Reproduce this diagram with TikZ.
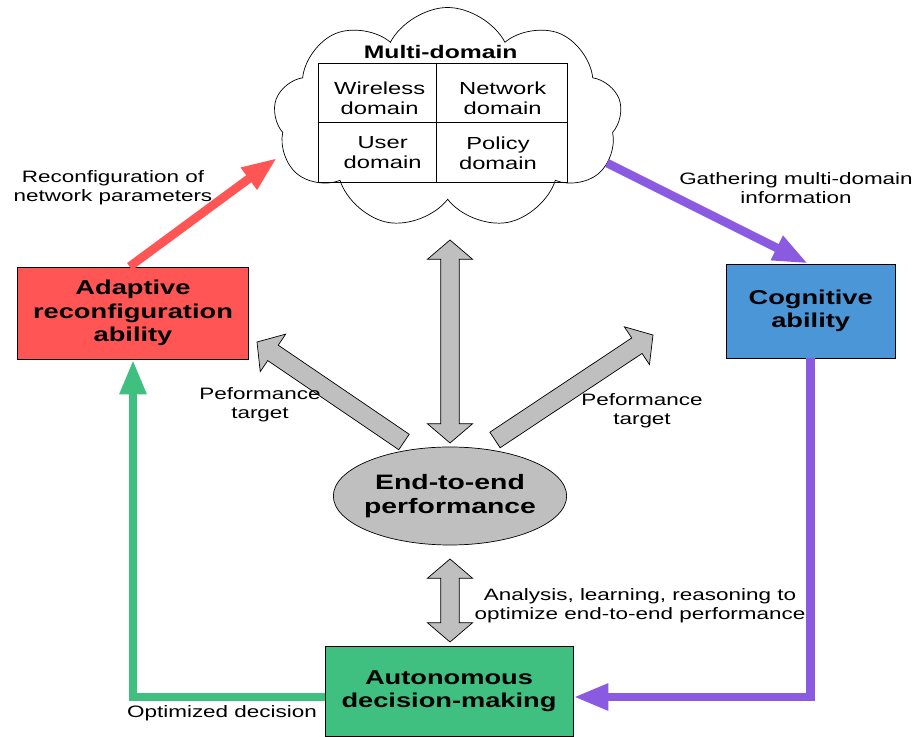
\documentclass[tikz,border=0pt]{standalone}
\usepackage{fontspec}
\setmainfont{Liberation Sans}[FakeStretch=1.36]
\usepackage{tikz}
\usetikzlibrary{arrows.meta,calc,shapes.symbols}

\definecolor{adaptred}{RGB}{255,85,85}
\definecolor{cogblue}{RGB}{75,150,215}
\definecolor{autogreen}{RGB}{64,192,128}
\definecolor{flowpurple}{RGB}{138,90,224}

\tikzset{
    lbl/.style={align=center, font=\fontsize{14.1}{16.2}\selectfont},
    cell/.style={align=center, font=\fontsize{14.9}{17.1}\selectfont},
    abilitybox/.style={draw, line width=0.8pt, align=center, font=\bfseries\fontsize{17.1}{20}\selectfont},
    flow/.style={line width=0.26cm, -{Triangle[length=1.05cm,width=0.75cm]}},
    grayarrow/.style={draw, fill=gray!50, line width=0.6pt, line join=miter},
}

% fat gray arrows (shaft half width, head half width, head length)
\def\gashaft{0.28cm}
\def\gawide{0.68cm}
\def\gahead{0.58cm}
\newcommand{\grayarrow}[2]{%
    \coordinate (ga-h) at ($(#2)!\gahead!(#1)$);
    \draw[grayarrow] ($(#1)!\gashaft!90:(#2)$) -- ($(ga-h)!\gashaft!90:(#2)$) -- ($(ga-h)!\gawide!90:(#2)$) -- (#2)
        -- ($(ga-h)!\gawide!-90:(#2)$) -- ($(ga-h)!\gashaft!-90:(#2)$) -- ($(#1)!\gashaft!-90:(#2)$) -- cycle;}
\newcommand{\graydblarrow}[2]{%
    \coordinate (ga-a) at ($(#1)!\gahead!(#2)$);
    \coordinate (ga-b) at ($(#2)!\gahead!(#1)$);
    \draw[grayarrow] (#1) -- ($(ga-a)!\gawide!90:(#2)$) -- ($(ga-a)!\gashaft!90:(#2)$) -- ($(ga-b)!\gashaft!90:(#2)$)
        -- ($(ga-b)!\gawide!90:(#2)$) -- (#2) -- ($(ga-b)!\gawide!-90:(#2)$) -- ($(ga-b)!\gashaft!-90:(#2)$)
        -- ($(ga-a)!\gashaft!-90:(#2)$) -- ($(ga-a)!\gawide!-90:(#2)$) -- cycle;}

\begin{document}
\begin{tikzpicture}

    \useasboundingbox (0,0) rectangle (27.45,22.08);

    % cloud with the domains
    \node[cloud, cloud puffs=9, cloud puff arc=125, aspect=1.6, draw, fill=white, line width=0.6pt,
        minimum width=10.45cm, minimum height=6.65cm] (cloud) at (13.43,18.53) {};
    \node[font=\bfseries\fontsize{15.5}{18}\selectfont] (multi) at (13.22,20.52) {Multi-domain};
    \node[draw, line width=0.6pt, minimum width=7.47cm, minimum height=3.57cm] (tbl) at (13.275,18.405) {};
    \draw[line width=0.6pt] ([xshift=-0.17cm]tbl.north) -- ([xshift=-0.17cm]tbl.south);
    \draw[line width=0.6pt] (tbl.west) -- (tbl.east);
    \node[cell] (wireless) at (11.39,19.14) {Wireless\\domain};
    \node[cell] (network) at (15.08,19.14) {Network\\domain};
    \node[cell] (user) at (11.48,17.49) {User\\domain};
    \node[cell] (policy) at (14.94,17.49) {Policy\\domain};

    % nodes (abilities)
    \node[abilitybox, fill=adaptred, minimum width=6.93cm, minimum height=2.76cm] (adapt) at (3.99,12.69) {Adaptive\\reconfiguration\\ability};
    \node[abilitybox, fill=cogblue, minimum width=5.07cm, minimum height=2.82cm] (cog) at (24.32,12.75) {Cognitive\\ability};
    \node[abilitybox, fill=autogreen, minimum width=7.44cm, minimum height=2.7cm] (auto) at (13.47,1.35) {Autonomous\\decision-making};
    \draw[fill=gray!50, line width=0.6pt] (13.5,7.2) ellipse [x radius=3.5cm, y radius=1.47cm];
    \node[font=\bfseries\fontsize{17.8}{20.5}\selectfont, align=center] (ell) at (13.5,7.2) {End-to-end\\performance};

    % colored paths
    \coordinate (reconftip) at (8.31,17.34);
    \coordinate (gatherstart) at (18.21,17.19);
    \draw[flow, adaptred] ([xshift=-0.1cm]adapt.north) -- (reconftip); % adapt -> cloud
    \draw[flow, flowpurple] (gatherstart) -- ([xshift=-0.08cm]cog.north); % cloud -> cog
    \draw[flow, flowpurple] (cog.south) |- ([yshift=-0.18cm]auto.east); % cog -> auto
    \draw[flow, autogreen] ([yshift=-0.18cm]auto.west) -| (adapt.south); % auto -> adapt

    % gray arrows
    \coordinate (vtop) at (13.5,14.88);
    \coordinate (vbot) at (13.5,8.79);
    \coordinate (ltail) at (12.12,8.82);
    \coordinate (ltip) at (7.71,11.82);
    \coordinate (rtail) at (14.85,8.88);
    \coordinate (rtip) at (19.59,12.03);
    \coordinate (ltop) at (13.5,5.31);
    \coordinate (lbot) at (13.5,2.82);
    \graydblarrow{vtop}{vbot} % cloud <-> performance
    \grayarrow{ltail}{ltip} % performance -> adapt
    \grayarrow{rtail}{rtip} % performance -> cog
    \graydblarrow{ltop}{lbot} % performance <-> auto

    % labels
    \node[lbl] (reconflbl) at (3.39,16.44) {Reconfiguration of\\network parameters};
    \node[lbl] (gatherlbl) at (23.88,16.44) {Gathering multi-domain\\information};
    \node[lbl] (perflbl) at (7.8,9.93) {Peformance\\target};
    \node[lbl] (perfrlbl) at (19.26,9.75) {Peformance\\target};
    \node[lbl] (analysislbl) at (19.2,3.9) {Analysis, learning, reasoning to\\optimize end-to-end performance};
    \node[lbl] (optimlbl) at (6.66,0.69) {Optimized decision};

\end{tikzpicture}
\end{document}
